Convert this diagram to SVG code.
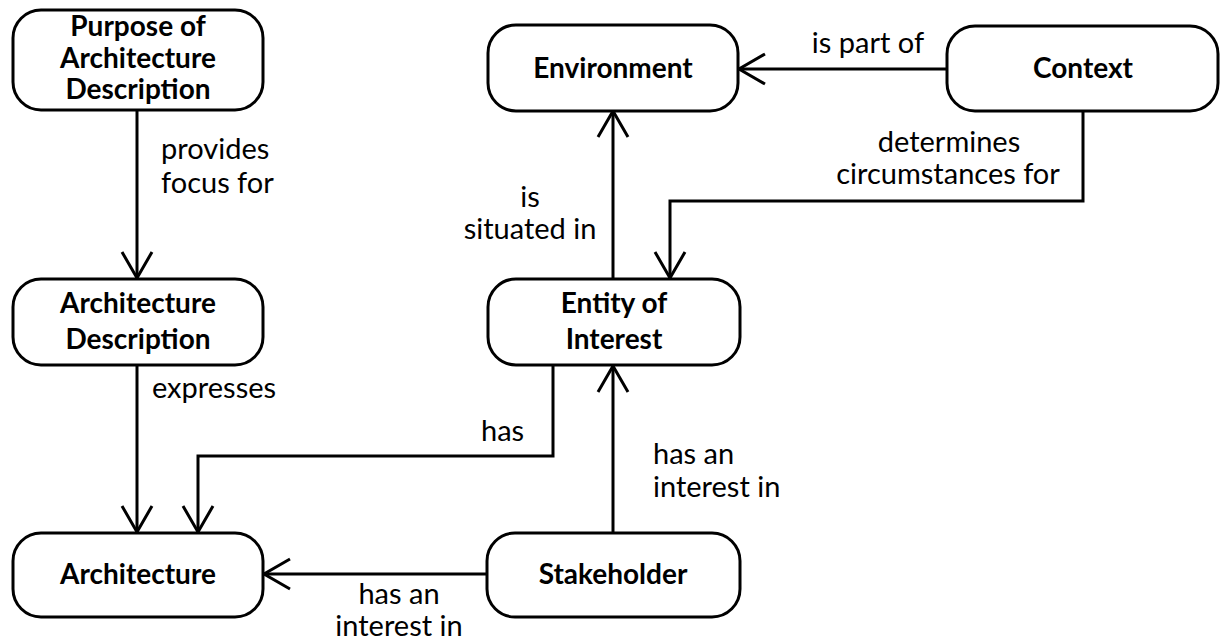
<svg xmlns="http://www.w3.org/2000/svg" width="1222" height="642" viewBox="0 0 1222 642">
  <defs>
    <marker id="open" markerUnits="userSpaceOnUse" markerWidth="40" markerHeight="40" viewBox="-30 -20 34 40" refX="0" refY="0" orient="auto">
      <path d="M -26 -15 L 0 0 L -26 15" fill="none" stroke="#000" stroke-width="3"/>
    </marker>
  </defs>
  <style>
    .box { fill: #fff; stroke: #000; stroke-width: 3; }
    .name { font-family: Lato, "Liberation Sans", sans-serif; font-weight: bold; font-size: 28px; fill: #000; text-anchor: middle; }
    .lbl { font-family: Lato, "Liberation Sans", sans-serif; font-size: 29px; fill: #000; }
    .mid { text-anchor: middle; }
    .edge { fill: none; stroke: #000; stroke-width: 3; marker-end: url(#open); }
  </style>
  <rect width="1222" height="642" fill="#fff"/>

  <g id="connectors">
    <path class="edge" d="M 137 110 L 137 278"/>
    <path class="edge" d="M 137 365 L 137 532"/>
    <path class="edge" d="M 553 365 L 553 456 L 198 456 L 198 532"/>
    <path class="edge" d="M 613 533 L 613 366"/>
    <path class="edge" d="M 487 574 L 264 574"/>
    <path class="edge" d="M 613 279 L 613 111"/>
    <path class="edge" d="M 947 69 L 739 69"/>
    <path class="edge" d="M 1083 111 L 1083 201 L 670 201 L 670 278"/>
  </g>

  <g id="labels">
    <text class="lbl" x="161" y="159">provides</text>
    <text class="lbl" x="161" y="193">focus for</text>
    <text class="lbl" x="152" y="398">expresses</text>
    <text class="lbl" x="481" y="441">has</text>
    <text class="lbl" x="653" y="464">has an</text>
    <text class="lbl" x="653" y="497">interest in</text>
    <text class="lbl mid" x="399" y="604">has an</text>
    <text class="lbl mid" x="399" y="636">interest in</text>
    <text class="lbl mid" x="530" y="207">is</text>
    <text class="lbl mid" x="530" y="239">situated in</text>
    <text class="lbl mid" x="868" y="53">is part of</text>
    <text class="lbl mid" x="949" y="152">determines</text>
    <text class="lbl mid" x="948" y="184">circumstances for</text>
  </g>

  <g id="purpose">
    <rect class="box" x="13" y="10" width="250" height="100" rx="28"/>
    <text class="name" x="138" y="36">Purpose of</text>
    <text class="name" x="138" y="68">Architecture</text>
    <text class="name" x="138" y="99">Description</text>
  </g>
  <g id="environment">
    <rect class="box" x="488" y="25" width="250" height="86" rx="28"/>
    <text class="name" x="613" y="78">Environment</text>
  </g>
  <g id="context">
    <rect class="box" x="947" y="26" width="271" height="85" rx="28"/>
    <text class="name" x="1083" y="78">Context</text>
  </g>
  <g id="architecture-description">
    <rect class="box" x="13" y="279" width="250" height="86" rx="28"/>
    <text class="name" x="138" y="313">Architecture</text>
    <text class="name" x="138" y="349">Description</text>
  </g>
  <g id="entity-of-interest">
    <rect class="box" x="488" y="279" width="252" height="86" rx="28"/>
    <text class="name" x="614" y="313">Entity of</text>
    <text class="name" x="614" y="349">Interest</text>
  </g>
  <g id="architecture">
    <rect class="box" x="13" y="533" width="250" height="84" rx="28"/>
    <text class="name" x="138" y="584">Architecture</text>
  </g>
  <g id="stakeholder">
    <rect class="box" x="487" y="533" width="253" height="84" rx="28"/>
    <text class="name" x="613" y="584">Stakeholder</text>
  </g>
</svg>
